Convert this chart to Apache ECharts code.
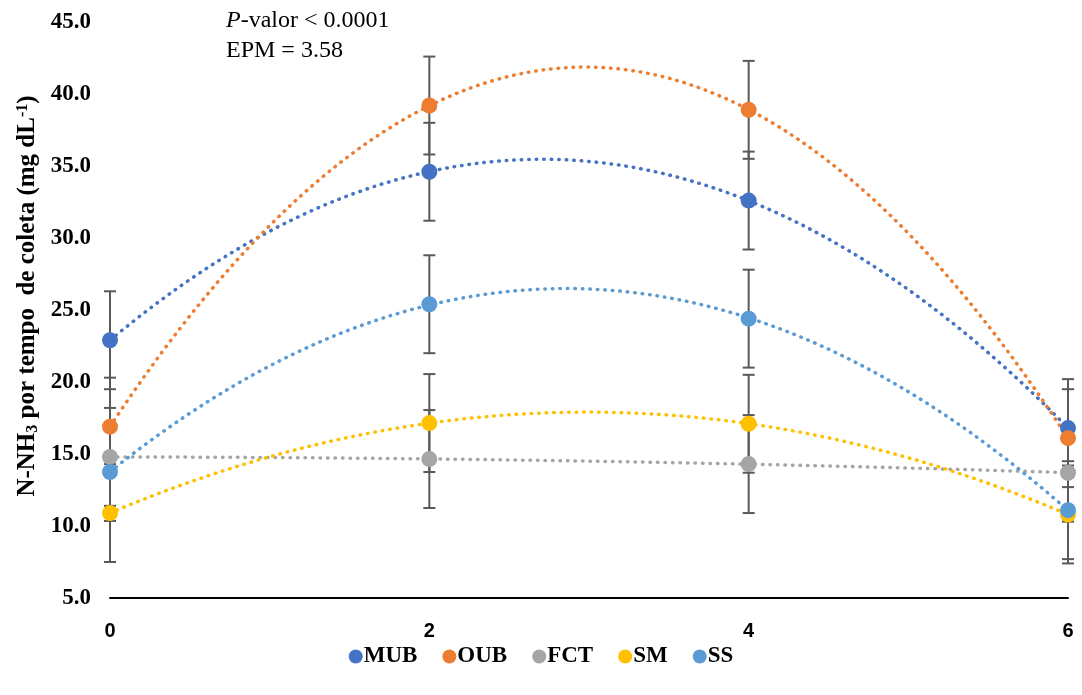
<!DOCTYPE html>
<html>
<head>
<meta charset="utf-8">
<script src="https://cdn.jsdelivr.net/npm/echarts@6/dist/echarts.min.js"></script>
<style>
  html, body { margin: 0; padding: 0; background: #fff; }
  #chart { width: 1082px; height: 695px; }
</style>
</head>
<body>
<div id="chart"></div>
<script>
// tempos de coleta (h)
const tempos = [0, 2, 4, 6]
const nomes = ['MUB', 'OUB', 'FCT', 'SM', 'SS']
const cores = ['#4472C4', '#ED7D31', '#A5A5A5', '#FFC000', '#5B9BD5']
// médias N-NH3 por tratamento
const MUB = [22.9, 34.6, 32.6, 16.8]
const OUB = [16.9, 39.2, 38.9, 16.1]
const FCT = [14.8, 14.65, 14.3, 13.7]
const SM = [10.9, 17.15, 17.1, 10.8]
const SS = [13.75, 25.4, 24.4, 11.1]
// erro padrão (barras)
const erro = [3.4, 3.4, 3.4, 3.4]
const yTicks = [5, 10, 15, 20, 25, 30, 35, 40, 45]

const valores = [MUB, OUB, FCT, SM, SS]

// linha de tendência polinomial (ordem 2), mínimos quadrados
const ajustePoli2 = (xs, ys) => {
  let s = [0, 0, 0, 0, 0], t = [0, 0, 0]
  xs.forEach((x, i) => {
    for (let k = 0; k < 5; k++) s[k] += Math.pow(x, k)
    for (let k = 0; k < 3; k++) t[k] += ys[i] * Math.pow(x, k)
  })
  const A = [[s[0], s[1], s[2], t[0]], [s[1], s[2], s[3], t[1]], [s[2], s[3], s[4], t[2]]]
  for (let i = 0; i < 3; i++) {
    for (let j = i + 1; j < 3; j++) {
      const f = A[j][i] / A[i][i]
      for (let k = i; k < 4; k++) A[j][k] -= f * A[i][k]
    }
  }
  const c = [0, 0, 0]
  for (let i = 2; i >= 0; i--) {
    let v = A[i][3]
    for (let k = i + 1; k < 3; k++) v -= A[i][k] * c[k]
    c[i] = v / A[i][i]
  }
  const pts = []
  for (let x = 0; x <= 6.0001; x += 0.05) pts.push([x, c[0] + c[1] * x + c[2] * x * x])
  return pts
}

const serif = '"Liberation Serif", "Times New Roman", serif'
const sans = '"Liberation Sans", Arial, sans-serif'

const series = []
// tendências
valores.forEach((v, i) => {
  series.push({
    name: nomes[i] + '_trend',
    type: 'line',
    data: ajustePoli2(tempos, v),
    showSymbol: false,
    silent: true,
    z: 1,
    lineStyle: { color: cores[i], width: 3.5, type: [0.5, 7], cap: 'round' }
  })
})
// barras de erro
valores.forEach((v, i) => {
  series.push({
    name: nomes[i] + '_err',
    type: 'custom',
    z: 2,
    silent: true,
    data: tempos.map((x, j) => [x, v[j] - erro[j], v[j] + erro[j]]),
    renderItem: (params, api) => {
      const lo = api.coord([api.value(0), api.value(1)])
      const hi = api.coord([api.value(0), api.value(2)])
      const w = 6
      const st = { stroke: '#595959', lineWidth: 2 }
      return {
        type: 'group',
        children: [
          { type: 'line', shape: { x1: lo[0], y1: lo[1], x2: hi[0], y2: hi[1] }, style: st },
          { type: 'line', shape: { x1: lo[0] - w, y1: lo[1], x2: lo[0] + w, y2: lo[1] }, style: st },
          { type: 'line', shape: { x1: hi[0] - w, y1: hi[1], x2: hi[0] + w, y2: hi[1] }, style: st }
        ]
      }
    }
  })
})
// médias
valores.forEach((v, i) => {
  series.push({
    name: nomes[i],
    type: 'scatter',
    z: 3,
    symbol: 'circle',
    symbolSize: 16,
    itemStyle: { color: cores[i], opacity: 1 },
    data: tempos.map((x, j) => [x, v[j]])
  })
})

const chart = echarts.init(document.getElementById('chart'))
chart.setOption({
  animation: false,
  grid: { left: 110, right: 14, top: 22, bottom: 97, containLabel: false, outerBoundsMode: 'none' },
  legend: {
    data: nomes,
    bottom: 22,
    left: 'center',
    icon: 'circle',
    itemWidth: 14,
    itemHeight: 14,
    itemGap: 25,
    itemStyle: { opacity: 1 },
    textStyle: { fontFamily: serif, fontWeight: 'bold', fontSize: 23, color: '#000', padding: [0, 0, 0, -4] }
  },
  xAxis: {
    type: 'value',
    min: 0,
    max: 6,
    interval: 2,
    axisLine: { lineStyle: { color: '#000', width: 2 } },
    axisTick: { show: false },
    splitLine: { show: false },
    axisLabel: { fontFamily: sans, fontWeight: 'bold', fontSize: 20, color: '#000', margin: 23 }
  },
  yAxis: {
    type: 'value',
    min: yTicks[0],
    max: yTicks[yTicks.length - 1],
    interval: 5,
    axisLine: { show: false },
    axisTick: { show: false },
    splitLine: { show: false },
    axisLabel: {
      fontFamily: serif, fontWeight: 'bold', fontSize: 23, color: '#000', margin: 19,
      formatter: v => v.toFixed(1)
    }
  },
  graphic: [
    {
      type: 'text',
      left: 226,
      top: 9,
      style: {
        text: '{i|P}{n|-valor < 0.0001}\n{n|EPM = 3.58}',
        rich: {
          i: { fontFamily: serif, fontStyle: 'italic', fontSize: 24, color: '#000', lineHeight: 30 },
          n: { fontFamily: serif, fontSize: 24, color: '#000', lineHeight: 30 }
        }
      }
    },
    {
      type: 'text',
      x: 28,
      y: 296,
      rotation: Math.PI / 2,
      style: {
        text: '{t|N-NH}{s|3}{t| por tempo  de coleta (mg dL}{p|-1}{t|)}',
        align: 'center',
        verticalAlign: 'middle',
        rich: {
          t: { fontFamily: serif, fontWeight: 'bold', fontSize: 25, color: '#000' },
          s: { fontFamily: serif, fontWeight: 'bold', fontSize: 16, color: '#000', verticalAlign: 'bottom', padding: [10, 0, 0, 0] },
          p: { fontFamily: serif, fontWeight: 'bold', fontSize: 16, color: '#000', verticalAlign: 'top', padding: [0, 0, 10, 0] }
        }
      }
    }
  ],
  series
})
</script>
</body>
</html>
